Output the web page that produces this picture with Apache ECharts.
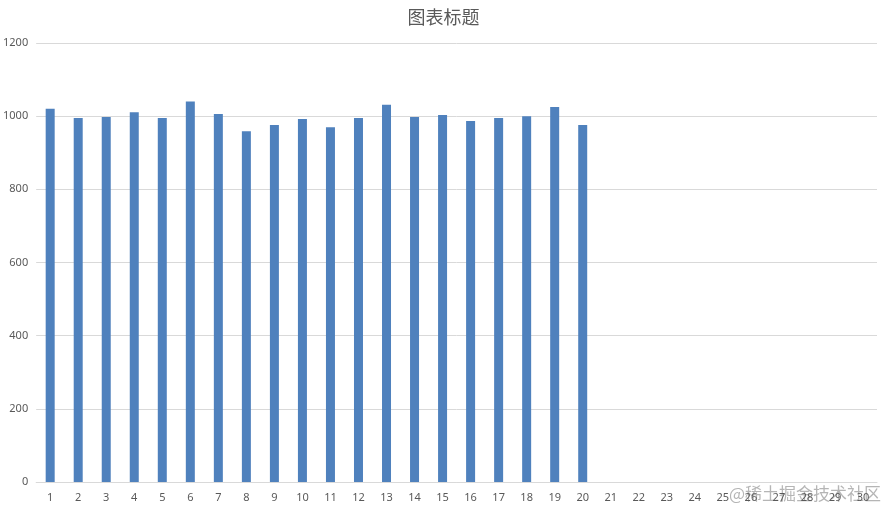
<!DOCTYPE html>
<html>
<head>
<meta charset="utf-8">
<script src="https://cdn.jsdelivr.net/npm/echarts@6/dist/echarts.min.js"></script>
<style>html,body{margin:0;padding:0;background:#fff}#c{width:887px;height:508px}</style>
</head>
<body>
<div id="c"></div>
<script>
const categories = Array.from({length: 30}, (_, i) => String(i + 1));
const values = [1020, 995, 998, 1011, 995, 1040, 1006, 959, 976, 992,
                970, 995, 1031, 998, 1003, 987, 995, 1000, 1025, 976];
const yTicks = [0, 200, 400, 600, 800, 1000, 1200];
const titleText = '图表标题';
const watermarkText = '@稀土掘金技术社区';

const chart = echarts.init(document.getElementById('c'));
chart.setOption({
  animation: false,
  title: {
    text: titleText, left: 'center', top: 3,
    textStyle: {fontSize: 18, fontWeight: 'normal', color: '#595959', fontFamily: 'Noto Sans CJK SC'}
  },
  grid: {left: 36, right: 10, top: 43, bottom: 26},
  xAxis: {
    type: 'category', data: categories,
    axisLine: {lineStyle: {color: '#d9d9d9'}},
    axisTick: {show: false},
    axisLabel: {color: '#595959', fontSize: 11, margin: 10, interval: 0, fontFamily: 'Noto Sans'}
  },
  yAxis: {
    type: 'value', min: yTicks[0], max: yTicks[yTicks.length - 1], interval: 200,
    axisLine: {show: false}, axisTick: {show: false},
    splitLine: {lineStyle: {color: '#d9d9d9'}},
    axisLabel: {color: '#595959', fontSize: 11, margin: 8, fontFamily: 'Noto Sans',
      formatter: v => String(v)}
  },
  series: [{
    type: 'bar', data: values, barWidth: 9,
    itemStyle: {color: '#4f81bd'}
  }],
  graphic: [{
    type: 'text', right: 6, bottom: 6, silent: true,
    style: {text: watermarkText, fontSize: 17, fill: 'rgba(120,120,120,0.55)', fontFamily: 'Noto Sans CJK SC'}
  }]
});
</script>
</body>
</html>
